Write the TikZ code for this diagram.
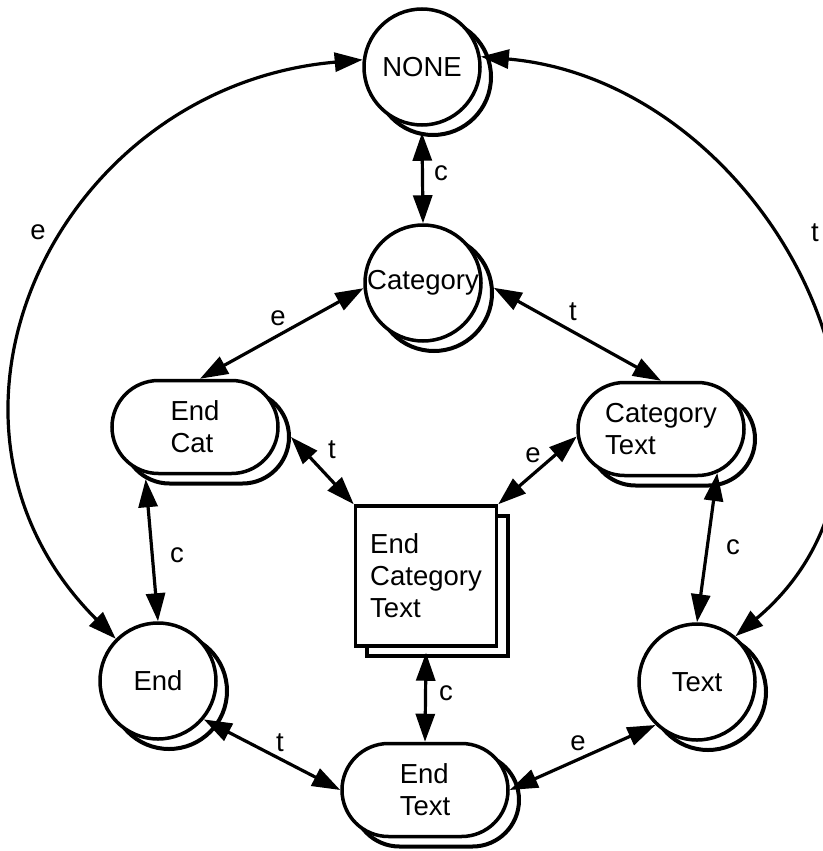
\documentclass[tikz,border=0pt]{standalone}
\usepackage{fontspec}
\setmainfont{Liberation Sans}
\usetikzlibrary{arrows.meta,shapes.misc}
\begin{document}
\begin{tikzpicture}[x=1pt,y=-1pt,
  >={Triangle[length=28pt,width=19pt]},
  every node/.style={font=\fontsize{27.5pt}{32pt}\selectfont, inner sep=0pt},
  state/.style={circle, draw, line width=3.5pt, fill=white, minimum size=116pt},
  pill/.style={rounded rectangle, draw, line width=3.5pt, fill=white,
    minimum width=166pt, minimum height=93pt, align=left},
  sqbox/.style={rectangle, draw, line width=3.5pt, fill=white,
    minimum width=141pt, minimum height=140pt, align=left},
  shade/.style={line width=4pt},
  link/.style={<->, line width=3.2pt}
]
\useasboundingbox (0,0) rectangle (822,851);

% offset shadows
\node[state, shade] (NONEs) at (433,77)  {};
\node[state, shade] (Cats)  at (434,293) {};
\node[pill,  shade] (ECs)   at (206,437) {};
\node[pill,  shade] (CTs)   at (672,439) {};
\node[sqbox, shade] (Boxs)  at (437,586) {};
\node[state, shade] (Ends)  at (169,691) {};
\node[state, shade] (Texts) at (708,692) {};
\node[pill,  shade] (ETs)   at (436,800) {};

% states
\node[state] (NONE) at (422,67)  {NONE};
\node[state] (Cat)  at (423,283) {Category};
\node[pill]  (EC)   at (195,427) {End\\Cat};
\node[pill]  (CT)   at (661,429) {Category\\Text};
\node[sqbox] (Box)  at (426,576) {End\\Category\\Text};
\node[state] (End)  at (158,681) {End};
\node[state] (Text) at (697,682) {Text};
\node[pill]  (ET)   at (425,790) {End\\Text};

% transitions
\draw[link] ([yshift=-6pt]NONE.south) -- (Cat.north);
\draw[link] (NONE.173) to[out=185,in=135,looseness=1.25] (End.135);
\draw[link] (NONE.10) to[out=-5,in=40,looseness=1.17] (Text.50);
\draw[link] (Cat.185) -- ([xshift=5pt]EC.north);
\draw[link] (Cats.5) -- (CT.north);
\draw[link] (ECs.east) -- (Box.north west);
\draw[link] (CT.185) -- (Box.north east);
\draw[link] (ECs.215) -- (End.north);
\draw[link] (CT.-38) -- (Text.north);
\draw[link] ([yshift=-5pt]Box.south) -- (ET.north);
\draw[link] (End.-40) -- (ET.west);
\draw[link] (ET.east) -- (Text.226);

% transition labels
\node (l1)  at (441,173) {c};
\node (l2)  at (38,232)  {e};
\node (l3)  at (815,233) {t};
\node (l4)  at (278,318) {e};
\node (l5)  at (573,312) {t};
\node (l6)  at (332,450) {t};
\node (l7)  at (533,455) {e};
\node (l8)  at (177,555) {c};
\node (l9)  at (733,547) {c};
\node (l10) at (446,693) {c};
\node (l11) at (280,743) {t};
\node (l12) at (578,743) {e};
\end{tikzpicture}
\end{document}
